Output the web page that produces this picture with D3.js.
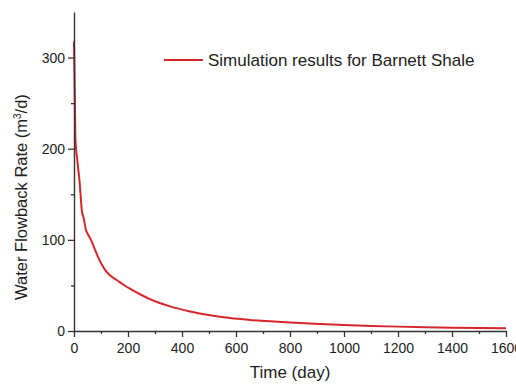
<!DOCTYPE html>
<html>
<head>
<meta charset="utf-8">
<script src="https://cdn.jsdelivr.net/npm/d3@7"></script>
<style>
  html, body { margin: 0; padding: 0; background: #fff; }
  svg { display: block; }
  text { font-family: "Liberation Sans", Arial, sans-serif; fill: #222; }
</style>
</head>
<body>
<svg id="chart" width="516" height="385"></svg>
<script>
// Simulated water flowback rate over time (Barnett Shale)
const days  = [0, 3, 5, 12, 16, 20, 30, 35, 44, 50, 63, 78, 94, 115, 135, 158, 185, 207, 250, 281, 320, 356, 430, 504, 578, 650, 726, 800, 911, 1000, 1100, 1200, 1300, 1400, 1500, 1600];
const rates = [318, 260, 212, 188, 177, 166, 130, 125, 111, 107, 100, 89, 78, 67, 60.5, 56, 50.5, 46.5, 39.5, 35, 30.5, 27, 21.5, 17.3, 14.2, 12.2, 10.6, 9.3, 7.7, 6.6, 5.6, 4.8, 4.2, 3.7, 3.3, 3];

const xMajorTicks = [0, 200, 400, 600, 800, 1000, 1200, 1400, 1600];
const xMinorTicks = [100, 300, 500, 700, 900, 1100, 1300, 1500];
const yMajorTicks = [0, 100, 200, 300];
const yMinorTicks = [50, 150, 250];

const seriesName = "Simulation results for Barnett Shale";
const xTitle = "Time (day)";

const svg = d3.select("#chart");

const x = d3.scaleLinear().domain([0, 1600]).range([74, 506]);
const y = d3.scaleLinear().domain([0, 350]).range([331, 12]);

const axisColor = "#333";
const lineColor = "#d6262b";

// Curve
const line = d3.line().x((d, i) => x(days[i])).y(d => y(d)).curve(d3.curveMonotoneX);
svg.append("path")
  .datum(rates)
  .attr("d", line)
  .attr("fill", "none")
  .attr("stroke", lineColor)
  .attr("stroke-width", 2);

// X axis
const gx = svg.append("g").attr("transform", `translate(0,${y(0)})`);
gx.call(d3.axisBottom(x).tickValues(xMajorTicks).tickSize(6).tickSizeOuter(0).tickFormat(d3.format("d")));
gx.append("g").call(d3.axisBottom(x).tickValues(xMinorTicks).tickSize(3).tickFormat(""))
  .select(".domain").remove();

// Y axis
const gy = svg.append("g").attr("transform", `translate(${x(0)},0)`);
gy.call(d3.axisLeft(y).tickValues(yMajorTicks).tickSize(6).tickSizeOuter(0).tickFormat(d3.format("d")));
gy.append("g").call(d3.axisLeft(y).tickValues(yMinorTicks).tickSize(3).tickFormat(""))
  .select(".domain").remove();

[gx, gy].forEach(g => {
  g.selectAll(".domain").attr("stroke", axisColor).attr("stroke-width", 1.4);
  g.selectAll(".tick line").attr("stroke", axisColor).attr("stroke-width", 1.3);
  g.selectAll(".tick text")
    .attr("font-family", "Liberation Sans, Arial, sans-serif")
    .attr("font-size", 14)
    .attr("fill", "#222");
});
gx.selectAll(".tick text").attr("dy", "0.92em");
gy.selectAll(".tick text").attr("x", -9);

// Axis titles
svg.append("text")
  .attr("x", (x.range()[0] + x.range()[1]) / 2)
  .attr("y", 378)
  .attr("text-anchor", "middle")
  .attr("font-size", 17)
  .text(xTitle);

const yt = svg.append("text")
  .attr("transform", "translate(27,197) rotate(-90)")
  .attr("text-anchor", "middle")
  .attr("font-size", 16.5);
yt.append("tspan").text("Water Flowback Rate (m");
yt.append("tspan").attr("font-size", 10).attr("dy", -6).text("3");
yt.append("tspan").attr("dy", 6).text("/d)");

// Legend
const legend = svg.append("g");
legend.append("line")
  .attr("x1", 164).attr("x2", 203)
  .attr("y1", 60).attr("y2", 60)
  .attr("stroke", lineColor).attr("stroke-width", 2);
legend.append("text")
  .attr("x", 208).attr("y", 66)
  .attr("font-size", 17)
  .text(seriesName);
</script>
</body>
</html>
